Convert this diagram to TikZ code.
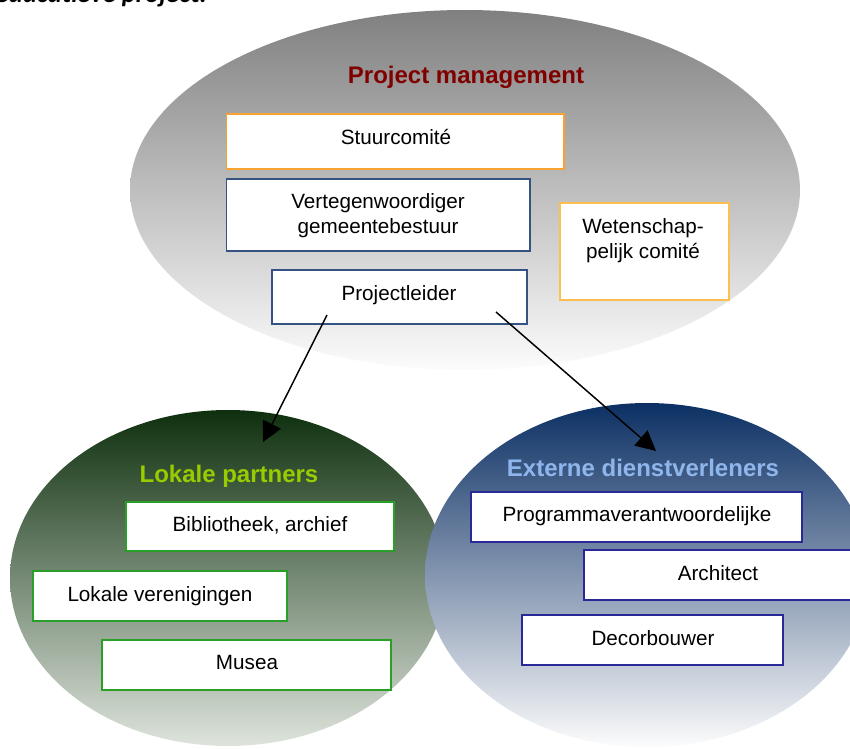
\documentclass[tikz,border=0pt]{standalone}
\usepackage{fontspec}
\setmainfont{Liberation Sans}
\newfontfamily\capfont{Carlito}
\usetikzlibrary{shapes.geometric,arrows.meta}
\definecolor{pmtop}{RGB}{128,128,128}
\definecolor{pmbot}{RGB}{252,252,252}
\definecolor{grtop}{RGB}{14,48,14}
\definecolor{grbot}{RGB}{222,228,220}
\definecolor{bltop}{RGB}{12,48,100}
\definecolor{blbot}{RGB}{252,252,252}
\definecolor{pmred}{RGB}{128,0,0}
\definecolor{lpgreen}{RGB}{153,204,0}
\definecolor{edblue}{RGB}{143,182,236}
\definecolor{orangeA}{RGB}{247,163,50}
\definecolor{orangeB}{RGB}{255,190,80}
\definecolor{steel}{RGB}{52,82,130}
\definecolor{boxgreen}{RGB}{40,160,40}
\definecolor{boxblue}{RGB}{40,40,150}
\begin{document}
\begin{tikzpicture}[x=0.75pt,y=-0.75pt,
  blob/.style={ellipse, inner sep=0pt, draw=none},
  boxnode/.style={draw, fill=white, line width=0.8pt, inner sep=0pt},
  txt/.style={anchor=base, inner sep=0pt, font=\fontsize{15.5}{18.4}\selectfont, align=center},
  head/.style={anchor=base, inner sep=0pt, font=\fontsize{18}{21}\selectfont\bfseries},
  arr/.style={line width=1.1pt, -{Triangle[length=15pt,width=15pt]}}]
\useasboundingbox (0,0) rectangle (850,749);
\clip (0,0) rectangle (850,749);
% caption fragment at the top
\node[anchor=base east, inner sep=0pt, font=\capfont\bfseries\itshape\fontsize{20}{24}\selectfont] (cap) at (207,3) {educatieve project.};
% ellipses
\node[blob, minimum width=502.5pt, minimum height=270pt, top color=pmtop, bottom color=pmbot] (pm) at (465,190) {};
\node[blob, minimum width=327pt, minimum height=252pt, top color=grtop, bottom color=grbot] (lp) at (228,578) {};
\node[blob, minimum width=333pt, minimum height=258pt, top color=bltop, bottom color=blbot] (ed) at (647,575) {};
% project management
\node[head, text=pmred] (pmt) at (466,84) {Project management};
\node[boxnode, draw=orangeA, minimum width=253.1pt, minimum height=41.25pt] (stuur) at (395.25,141.5) {};
\node[txt] (stuurt) at (396,144) {Stuurcomité};
\node[boxnode, draw=steel, minimum width=227.6pt, minimum height=54pt] (verteg) at (378.25,215) {};
\node[txt] (vertegt) at (378,233) {Vertegenwoordiger\\gemeentebestuur};
\node[boxnode, draw=orangeB, minimum width=126.75pt, minimum height=72.75pt] (wet) at (644.5,251.5) {};
\node[txt] (wett) at (643,258) {Wetenschap-\\pelijk comité};
\node[boxnode, draw=steel, minimum width=191.25pt, minimum height=40.5pt] (proj) at (399.5,297) {};
\node[txt] (projt) at (399,300) {Projectleider};
% lokale partners
\node[head, text=lpgreen] (lpt) at (229,482) {Lokale partners};
\node[boxnode, draw=boxgreen, minimum width=201pt, minimum height=36.75pt] (bib) at (260,526.5) {};
\node[txt] (bibt) at (260,531) {Bibliotheek, archief};
\node[boxnode, draw=boxgreen, minimum width=190.5pt, minimum height=37.5pt] (lok) at (160,596) {};
\node[txt] (lokt) at (160,601) {Lokale verenigingen};
\node[boxnode, draw=boxgreen, minimum width=216.75pt, minimum height=37.5pt] (mus) at (246.5,665) {};
\node[txt] (must) at (247,669) {Musea};
% externe dienstverleners
\node[head, text=edblue] (edt) at (643,476) {Externe dienstverleners};
\node[boxnode, draw=boxblue, minimum width=248.25pt, minimum height=37.5pt] (prog) at (636.5,517) {};
\node[txt] (progt) at (637,521) {Programmaverantwoordelijke};
\node[boxnode, draw=boxblue, minimum width=237pt, minimum height=37.5pt] (arch) at (742,575) {};
\node[txt] (archt) at (718,580) {Architect};
\node[boxnode, draw=boxblue, minimum width=195.75pt, minimum height=37.5pt] (deco) at (652.5,640) {};
\node[txt] (decot) at (653,645) {Decorbouwer};
% arrows
\coordinate (a1s) at (327,315);
\coordinate (a1e) at (263,442);
\coordinate (a2s) at (496,312);
\coordinate (a2e) at (656,451);
\draw[arr] (a1s) -- (a1e);
\draw[arr] (a2s) -- (a2e);
\end{tikzpicture}
\end{document}
